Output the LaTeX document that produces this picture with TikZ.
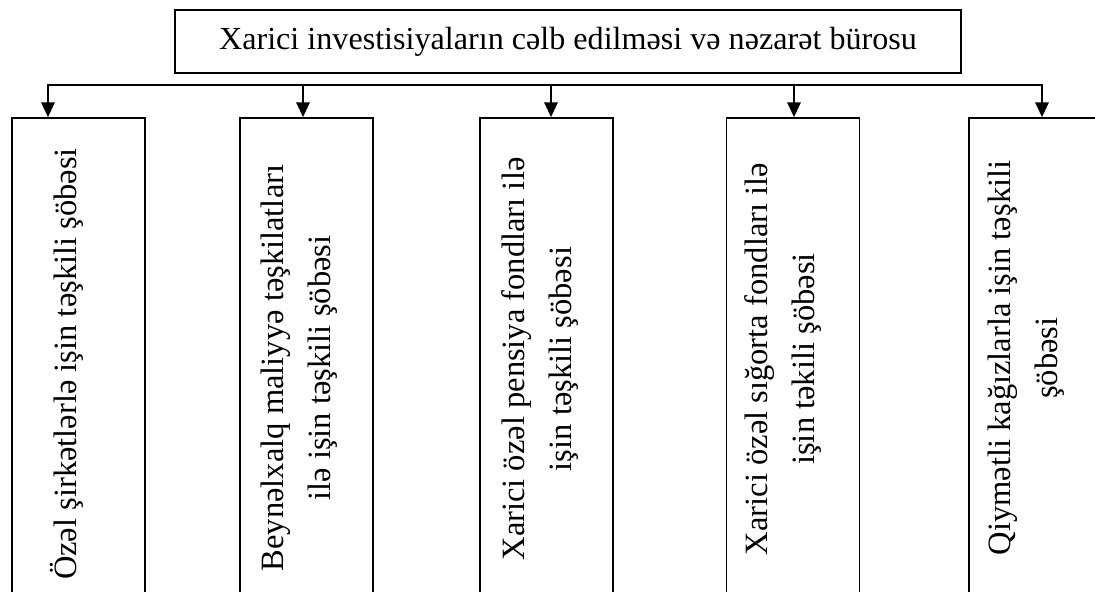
\documentclass[tikz,border=0pt]{standalone}
\usepackage{fontspec}
\setmainfont{Liberation Serif}
\usetikzlibrary{arrows.meta}

\begin{document}
\begin{tikzpicture}[x=0.75pt,y=-0.75pt]
\tikzstyle{every node}+=[inner sep=0pt]
\tikzstyle{box}=[draw=black, line width=1.3pt, rectangle]
\tikzstyle{sobe}=[box, minimum width=99.75pt, minimum height=376.5pt]
\tikzstyle{txt}=[rotate=90, align=center, font=\fontsize{24.4}{35}\selectfont]
\tikzstyle{bus}=[black, line width=1.3pt]
\tikzstyle{arr}=[bus, -{Triangle[length=11pt,width=10pt]}]
\useasboundingbox (0,0) rectangle (1095,592);
\clip (0,0) rectangle (1095,592);
\node [box, minimum width=589.5pt, minimum height=47.25pt, font=\fontsize{24.1}{28}\selectfont] (buro) at (568,41.5) {Xarici investisiyaların cəlb edilməsi və nəzarət bürosu};
\node [sobe] (b1) at (78.5,369) {};
\node [sobe] (b2) at (306.5,369) {};
\node [sobe] (b3) at (546.5,369) {};
\node [sobe] (b4) at (793,369) {};
\node [sobe] (b5) at (1035.5,369) {};
\node [txt] (t1) at (67,364) {Özəl şirkətlərlə işin təşkili şöbəsi};
\node [txt] (t2) at (299,368) {Beynəlxalq maliyyə təşkilatları\\ilə işin təşkili şöbəsi};
\node [txt] (t3) at (540,359) {Xarici özəl pensiya fondları ilə\\işin təşkili şöbəsi};
\node [txt] (t4) at (783,359) {Xarici özəl sığorta fondları ilə\\işin təkili şöbəsi};
\node [txt] (t5) at (1026,358) {Qiymətli kağızlarla işin təşkili\\şöbəsi};
\coordinate (k1) at (48,85);
\coordinate (k2) at (303,85);
\coordinate (k3) at (551,85);
\coordinate (k4) at (794,85);
\coordinate (k5) at (1042,85);
\draw [bus] (k2) -- (k4);
\draw [arr] (k2) -- (k1) -- (k1 |- b1.north);
\draw [arr] (k4) -- (k5) -- (k5 |- b5.north);
\foreach \i in {2,3,4}
  \draw [arr] (k\i) -- (k\i |- b\i.north);
\end{tikzpicture}
\end{document}
